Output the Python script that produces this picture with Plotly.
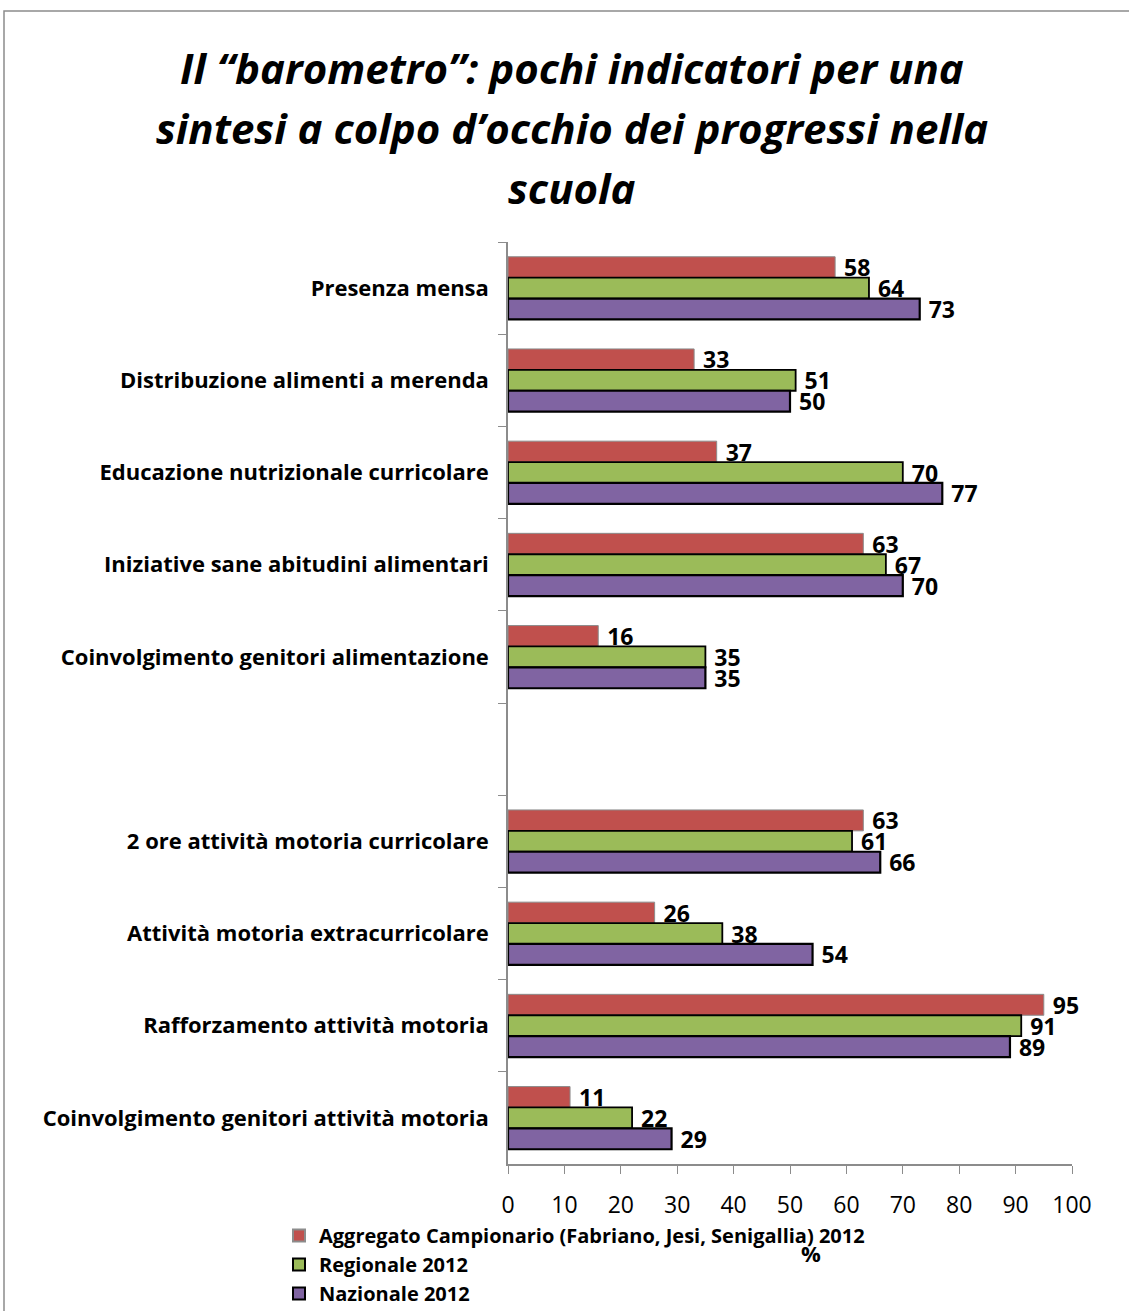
import plotly.graph_objects as go

categories = [
    "Presenza mensa",
    "Distribuzione alimenti a merenda",
    "Educazione nutrizionale curricolare",
    "Iniziative sane abitudini alimentari",
    "Coinvolgimento genitori alimentazione",
    " ",
    "2 ore attività motoria curricolare",
    "Attività motoria extracurricolare",
    "Rafforzamento attività motoria",
    "Coinvolgimento genitori attività motoria",
]
aggregato = [58, 33, 37, 63, 16, None, 63, 26, 95, 11]
regionale = [64, 51, 70, 67, 35, None, 61, 38, 91, 22]
nazionale = [73, 50, 77, 70, 35, None, 66, 54, 89, 29]
series_names = [
    "Aggregato Campionario (Fabriano, Jesi, Senigallia) 2012",
    "Regionale 2012",
    "Nazionale 2012",
]
x_ticks = [0, 10, 20, 30, 40, 50, 60, 70, 80, 90, 100]
title_lines = [
    "Il “barometro”: pochi indicatori per una",
    "sintesi a colpo d’occhio dei progressi nella",
    "scuola",
]

FONT = "Open Sans"
colors = ["#C0504D", "#9BBB59", "#8064A2"]
line_colors = ["#8C8C8C", "#000000", "#000000"]
line_widths = [1, 1.8, 2.2]

W, H = 1129, 1311
L, R, T, B = 508, 57, 242, 147
pw, ph = W - L - R, H - T - B

fig = go.Figure()
for name, vals, c, lc, lw in zip(series_names, [aggregato, regionale, nazionale],
                                  colors, line_colors, line_widths):
    fig.add_trace(go.Bar(
        y=categories, x=vals, name=name, orientation="h",
        marker=dict(color=c, line=dict(color=lc, width=lw)),
        text=[("" if v is None else " " + str(v)) for v in vals],
        textposition="outside", constraintext="none", cliponaxis=False,
        textfont=dict(family=FONT, size=23, color="black", weight="bold"),
    ))

def px2x(px):
    return (px - L) / pw

def py2y(py):
    return (H - B - py) / ph

annotations = []
for line, yy in zip(title_lines, [67, 127, 188]):
    annotations.append(dict(
        text=f"<b><i>{line}</i></b>", x=px2x(572), y=py2y(yy), xref="paper", yref="paper",
        xanchor="center", yanchor="middle", showarrow=False,
        font=dict(family=FONT, size=42, color="black"),
    ))
annotations.append(dict(
    text="<b>%</b>", x=px2x(811), y=py2y(1253), xref="paper", yref="paper",
    xanchor="center", yanchor="middle", showarrow=False,
    font=dict(family=FONT, size=22, color="black"),
))

fig.update_layout(
    width=W, height=H,
    margin=dict(l=L, r=R, t=T, b=B, autoexpand=False),
    paper_bgcolor="white", plot_bgcolor="white",
    barmode="group", bargap=0.32, bargroupgap=0,
    font=dict(family=FONT, color="black"),
    showlegend=True,
    legend=dict(
        x=px2x(279), y=py2y(1216), xanchor="left", yanchor="top",
        orientation="v", traceorder="normal",
        font=dict(family=FONT, size=20, color="black", weight="bold"),
        itemwidth=30, tracegroupgap=0, bgcolor="rgba(0,0,0,0)",
        itemsizing="constant",
    ),
    annotations=annotations,
    shapes=[dict(type="rect", xref="paper", yref="paper",
                 x0=px2x(4), x1=px2x(1140), y0=py2y(1330), y1=py2y(11),
                 line=dict(color="#8C8C8C", width=1.5), layer="below")],
)
fig.update_xaxes(
    range=[0, 100], tickvals=x_ticks, ticktext=[str(t) for t in x_ticks],
    showgrid=False, zeroline=False, showline=True, linecolor="#8C8C8C", linewidth=1.5,
    ticks="outside", ticklen=8, tickcolor="#8C8C8C", tickwidth=1.2,
    ticklabelstandoff=12,
    tickfont=dict(family=FONT, size=23, color="black"),
)
fig.update_yaxes(
    categoryorder="array", categoryarray=categories, autorange="reversed",
    showgrid=False, zeroline=False, showline=True, linecolor="#8C8C8C", linewidth=1.5,
    ticks="outside", ticklen=8, tickcolor="#8C8C8C", tickwidth=1.2, tickson="boundaries",
    ticklabelstandoff=13,
    tickfont=dict(family=FONT, size=22, color="black", weight="bold"),
)

fig.write_html("out.html", config={"displayModeBar": False},
               post_script="document.body.style.margin='0';")
